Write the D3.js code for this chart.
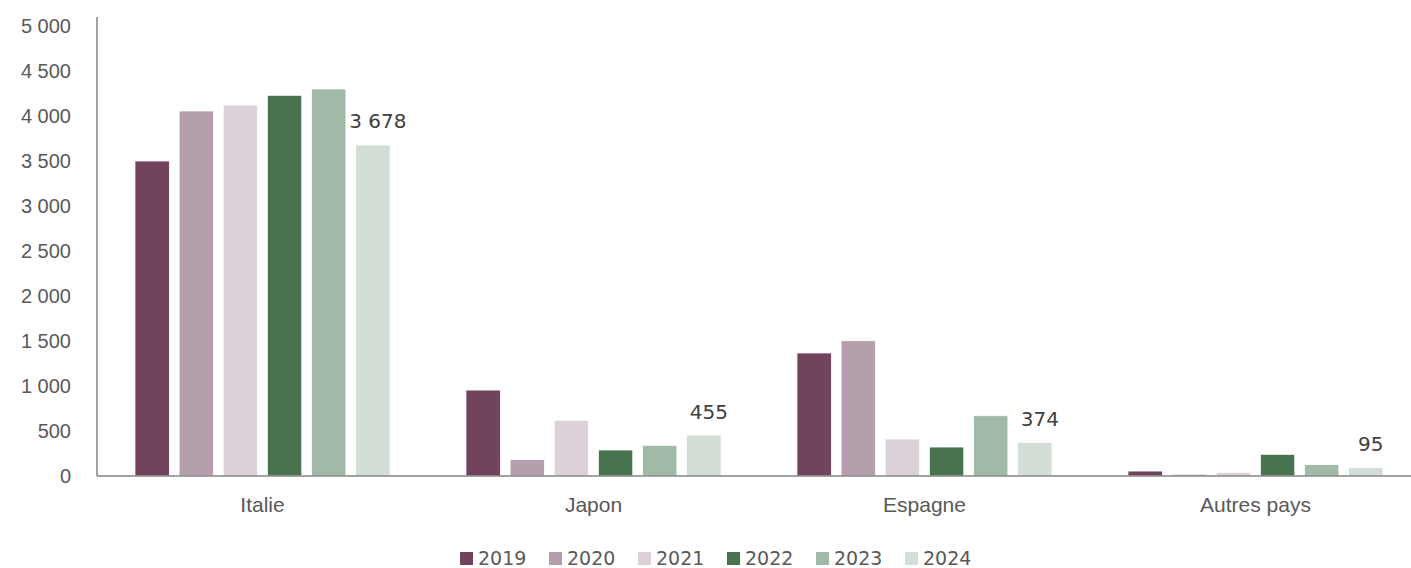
<!DOCTYPE html>
<html>
<head>
<meta charset="utf-8">
<script src="https://cdn.jsdelivr.net/npm/d3@7"></script>
<style>
  html, body { margin: 0; padding: 0; background: #fff; }
  svg { display: block; font-family: "DejaVu Sans", "Noto Sans", sans-serif; }
</style>
</head>
<body>
<svg id="chart" width="1411" height="568"></svg>
<script>
// Volumes par pays de destination, 2019-2024
const categories = ["Italie", "Japon", "Espagne", "Autres pays"];
const years = ["2019", "2020", "2021", "2022", "2023", "2024"];
const values2019 = [3500, 955, 1367, 55];
const values2020 = [4056, 182, 1503, 20];
const values2021 = [4122, 620, 411, 40];
const values2022 = [4230, 289, 322, 241];
const values2023 = [4300, 341, 670, 126];
const values2024 = [3678, 455, 374, 95];
const yTicks = [0, 500, 1000, 1500, 2000, 2500, 3000, 3500, 4000, 4500, 5000];
const colors = ["#71435c", "#b69fac", "#dcd1d8", "#47744f", "#a1b9a7", "#d2ded6"];

const seriesValues = [values2019, values2020, values2021, values2022, values2023, values2024];
const labelledYear = "2024";

const svg = d3.select("#chart");
const W = 1411, H = 568;
const margin = { left: 97, right: -10, top: 26, bottom: 92 };
const textGrey = "#595959";

const x0 = d3.scaleBand()
  .domain(categories)
  .range([margin.left, W - margin.right])
  .paddingInner(0.2)
  .paddingOuter(0.1);

const x1 = d3.scaleBand()
  .domain(years)
  .range([0, x0.bandwidth()])
  .paddingInner(0.22)
  .paddingOuter(0.11);

const y = d3.scaleLinear()
  .domain([0, 5000])
  .range([H - margin.bottom, margin.top]);

const fmt = v => d3.format(",")(v).replace(/,/g, " ");

// Y axis: labels only, plus a plain vertical rule
const yAxis = d3.axisLeft(y).tickValues(yTicks).tickFormat(fmt).tickSize(0).tickPadding(26);
const gy = svg.append("g").attr("transform", `translate(${margin.left},0)`).call(yAxis);
gy.select(".domain").remove();
gy.selectAll("text")
  .attr("fill", textGrey)
  .style("font-size", "20px");

svg.append("line")
  .attr("x1", margin.left).attr("x2", margin.left)
  .attr("y1", y(5100)).attr("y2", y(0))
  .attr("stroke", "#858585").attr("stroke-width", 1.5);

// Bars
const groups = svg.append("g").selectAll("g")
  .data(categories)
  .join("g")
  .attr("transform", c => `translate(${x0(c)},0)`);

groups.selectAll("rect")
  .data((c, i) => years.map((yr, j) => ({ year: yr, value: seriesValues[j][i], color: colors[j] })))
  .join("rect")
  .attr("x", d => x1(d.year))
  .attr("width", x1.bandwidth())
  .attr("y", d => y(d.value))
  .attr("height", d => y(0) - y(d.value))
  .attr("fill", d => d.color)
  .attr("stroke", "#fff")
  .attr("stroke-width", 0.8);

// Value labels on the latest year
groups.selectAll("text.val")
  .data((c, i) => [{ year: labelledYear, value: seriesValues[years.indexOf(labelledYear)][i] }])
  .join("text")
  .attr("class", "val")
  .attr("x", d => x1(d.year) + x1.bandwidth() / 2 + 5)
  .attr("y", d => y(d.value) - 16.5)
  .attr("text-anchor", "middle")
  .attr("fill", "#404040")
  .style("font-size", "20px")
  .text(d => fmt(d.value));

// X axis baseline and category labels
svg.append("line")
  .attr("x1", margin.left).attr("x2", W)
  .attr("y1", y(0)).attr("y2", y(0))
  .attr("stroke", "#858585").attr("stroke-width", 1.5);

const xAxis = d3.axisBottom(x0).tickSize(0).tickPadding(21);
const gx = svg.append("g").attr("transform", `translate(0,${y(0)})`).call(xAxis);
gx.select(".domain").remove();
gx.selectAll("text")
  .attr("fill", textGrey)
  .style("font-size", "21px");

// Legend
const legendX = d3.scaleBand().domain(years).range([460, 994]);
const legend = svg.append("g").attr("transform", "translate(0,558)");
const items = legend.selectAll("g")
  .data(years)
  .join("g")
  .attr("transform", yr => `translate(${legendX(yr)},0)`);
items.append("rect")
  .attr("x", 0).attr("y", -6)
  .attr("width", 13).attr("height", 13)
  .attr("fill", (yr, j) => colors[j]);
items.append("text")
  .attr("x", 18).attr("y", 0)
  .attr("dy", "0.35em")
  .attr("fill", textGrey)
  .style("font-size", "19px")
  .text(yr => yr);
</script>
</body>
</html>
